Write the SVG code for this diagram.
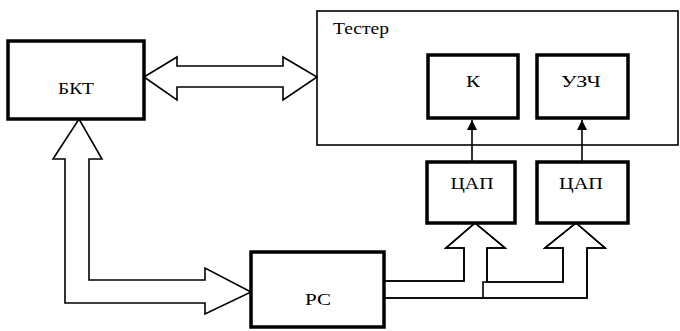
<svg xmlns="http://www.w3.org/2000/svg" width="680" height="331" viewBox="0 0 680 331">
<style>
.box{fill:#fff;stroke:#000;stroke-width:3.5}
.frame{fill:none;stroke:#000;stroke-width:1.6}
.ol{fill:#fff;stroke:#000;stroke-width:1.6;stroke-linejoin:miter}
.ln{fill:none;stroke:#000;stroke-width:1.6}
.t{font-family:"Liberation Serif","DejaVu Serif","Times New Roman",serif;font-size:17px;fill:#000;text-anchor:middle}
</style>
<defs>
<marker id="ah" markerWidth="10" markerHeight="14" refX="10" refY="5" orient="auto" markerUnits="userSpaceOnUse" viewBox="0 0 10 10">
<path d="M0,0 L10,5 L0,10 z" fill="#000"/>
</marker>
</defs>
<rect width="680" height="331" fill="#fff"/>
<g id="tester">
<rect class="frame" x="317" y="11" width="361" height="134"/>
<text class="t" x="333" y="34" style="text-anchor:start;font-size:16px" textLength="56" lengthAdjust="spacingAndGlyphs">Тестер</text>
</g>
<g id="connectors">
<path class="ol" d="M144,77 L177,57 L177,66 L283,66 L283,57 L317,77 L283,100 L283,87 L177,87 L177,100 Z"/>
<path class="ol" d="M65,303 L65,159 L53,159 L79,119 L102,159 L89,159 L89,280 L205,280 L205,268 L251,292 L205,314 L205,303 Z"/>
<path class="ol" d="M384,281 H464 V248 H446 L475,223 L505,248 H487 V282 H563 V248 H545 L576,223 L605,248 H587 V298 H384 Z" stroke="none"/>
<path class="ln" d="M384,281 H464 V248 H446 L475,223 L505,248 H487 V282"/>
<path class="ln" d="M483,298 V282 H563 V248 H545 L576,223 L605,248 H587 V298 H384"/>
<line class="ln" x1="472" y1="162" x2="472" y2="120" marker-end="url(#ah)"/>
<line class="ln" x1="582" y1="162" x2="582" y2="120" marker-end="url(#ah)"/>
</g>
<g id="bkt">
<rect class="box" x="8" y="41" width="136" height="78"/>
<text class="t" x="76" y="94" textLength="36" lengthAdjust="spacingAndGlyphs">БКТ</text>
</g>
<g id="k">
<rect class="box" x="428" y="55" width="90" height="63"/>
<text class="t" x="473" y="87" textLength="14" lengthAdjust="spacingAndGlyphs">К</text>
</g>
<g id="uzch">
<rect class="box" x="537" y="55" width="91" height="63"/>
<text class="t" x="581" y="87" textLength="40" lengthAdjust="spacingAndGlyphs">УЗЧ</text>
</g>
<g id="dac1">
<rect class="box" x="427" y="162" width="88" height="61"/>
<text class="t" x="472" y="189" textLength="43" lengthAdjust="spacingAndGlyphs">ЦАП</text>
</g>
<g id="dac2">
<rect class="box" x="537" y="162" width="91" height="61"/>
<text class="t" x="581" y="189" textLength="44" lengthAdjust="spacingAndGlyphs">ЦАП</text>
</g>
<g id="pc">
<rect class="box" x="251" y="252" width="133" height="75"/>
<text class="t" x="318" y="305" textLength="26" lengthAdjust="spacingAndGlyphs">РС</text>
</g>
</svg>
